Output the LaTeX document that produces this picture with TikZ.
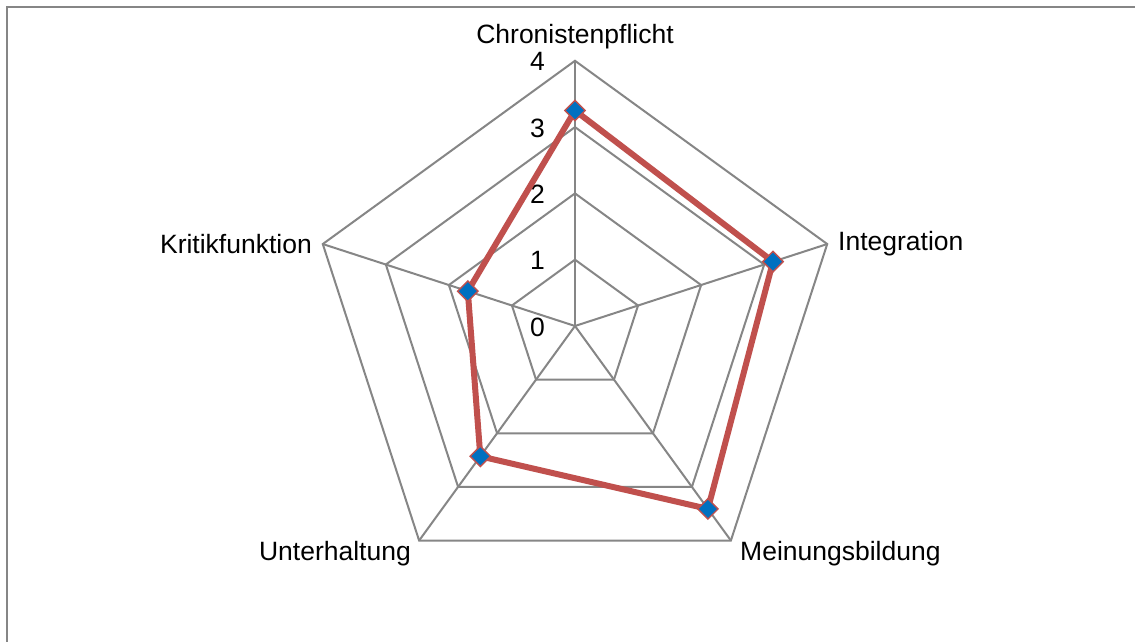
\documentclass[tikz,border=0pt]{standalone}
\usepackage{fontspec}
\setmainfont{Liberation Sans}
\usetikzlibrary{shapes.geometric,calc}
\definecolor{gridgray}{HTML}{868686}
\definecolor{datared}{HTML}{C0504D}
\definecolor{markblue}{HTML}{0070C0}
\tikzset{
  gridline/.style={draw=gridgray, line width=2pt},
  frameline/.style={draw=gridgray, line width=2.4pt},
  dataline/.style={draw=datared, line width=6pt, line join=round},
  marker/.style={diamond, fill=markblue, draw=datared, line width=1.4pt, minimum size=21pt, inner sep=0pt},
  axlabel/.style={inner sep=0pt, font=\fontsize{26.5}{30}\selectfont},
  ticklabel/.style={inner sep=0pt, anchor=east, font=\fontsize{26.5}{30}\selectfont},
}
\begin{document}
\begin{tikzpicture}[x=1pt,y=1pt]
\useasboundingbox (0,0) rectangle (1135,642);
\fill[white] (0,0) rectangle (1135,642);
% frame
\coordinate (fb) at (7,0);
\coordinate (fc) at (7,635);
\coordinate (fr) at (1135,635);
\draw[frameline] (fb) -- (fc) -- (fr);
% center
\coordinate (O) at (575,316);
\def\R{66.3}
% grid pentagons
\foreach \k in {1,2,3,4}{
  \foreach \a/\n in {90/a,18/b,-54/c,-126/d,162/e}{
    \coordinate (g\k\n) at ($(O)+(\a:\k*\R)$);
  }
  \draw[gridline] (g\k a) -- (g\k b) -- (g\k c) -- (g\k d) -- (g\k e) -- cycle;
}
% spokes
\foreach \n in {a,b,c,d,e}{
  \draw[gridline] (O) -- (g4\n);
}
% tick labels
\node[ticklabel] (t0) at (545,315) {0};
\node[ticklabel] (t1) at ($(545,315)+(0,\R)$) {1};
\node[ticklabel] (t2) at ($(545,315)+(0,2*\R)$) {2};
\node[ticklabel] (t3) at ($(545,315)+(0,3*\R)$) {3};
\node[ticklabel] (t4) at ($(545,315)+(0,4*\R)$) {4};
% axis labels
\node[axlabel] (lA) at (575,605) {Chronistenpflicht};
\node[axlabel, anchor=west] (lB) at (838,398) {Integration};
\node[axlabel, anchor=west] (lC) at (740,88) {Meinungsbildung};
\node[axlabel, anchor=east] (lD) at (411,88) {Unterhaltung};
\node[axlabel, anchor=east] (lE) at (312,398) {Kritikfunktion};
% data
\coordinate (pA) at ($(O)+(90:3.25*\R)$);
\coordinate (pB) at ($(O)+(18:3.14*\R)$);
\coordinate (pC) at ($(O)+(-54:3.41*\R)$);
\coordinate (pD) at ($(O)+(-126:2.43*\R)$);
\coordinate (pE) at ($(O)+(162:1.70*\R)$);
\draw[dataline] (pA) -- (pB) -- (pC) -- (pD) -- (pE) -- cycle;
\foreach \p in {A,B,C,D,E}{
  \node[marker] (m\p) at (p\p) {};
}
\end{tikzpicture}
\end{document}
